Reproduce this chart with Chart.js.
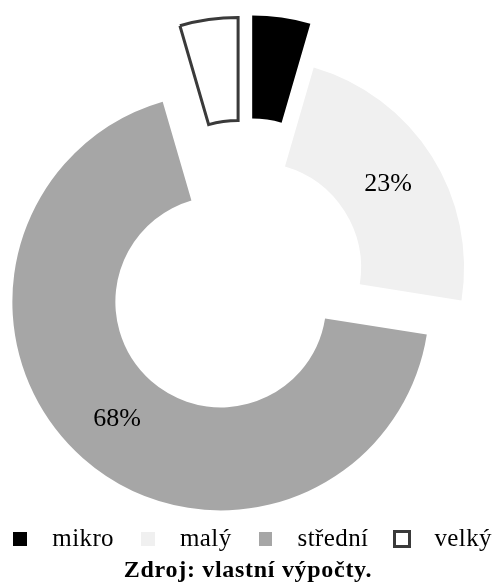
<!DOCTYPE html>
<html lang="cs">
<head>
<meta charset="utf-8">
<title>Podniky podle velikosti</title>
<script src="https://cdn.jsdelivr.net/npm/chart.js@4.4.1/dist/chart.umd.min.js"></script>
<style>
  html, body { margin: 0; padding: 0; background: #fff; }
  #frame {
    position: relative; width: 496px; height: 588px; overflow: hidden;
    font-family: 'Liberation Serif', 'Times New Roman', serif; color: #000;
  }
  #chart { position: absolute; left: 0; top: 0; }
  #legend {
    position: absolute; left: 0; top: 524.8px; width: 496px; margin: 0;
    padding: 0 0 0 13.3px; box-sizing: border-box; list-style: none;
    display: flex; align-items: flex-start;
  }
  #legend li { display: flex; align-items: flex-start; margin-right: 27px; }
  #legend .swatch { width: 13.5px; height: 13.5px; margin-top: 7.5px; margin-right: 25.5px; box-sizing: border-box; }
  #legend .label { font-size: 25px; line-height: 25px; letter-spacing: 0.4px; white-space: nowrap; }
  #source {
    position: absolute; left: 0; top: 556.6px; width: 496px; text-align: center;
    font-weight: bold; font-size: 24px; line-height: 24px; letter-spacing: 0.7px;
  }
</style>
</head>
<body>
<div id="frame">
  <canvas id="chart" width="496" height="530"></canvas>
  <ul id="legend"></ul>
  <div id="source"></div>
</div>
<script>
// Size classes of enterprises and their shares (%)
const categories = ['mikro', 'malý', 'střední', 'velký'];
const shares = [4.5, 23, 68, 4.5];
const sourceNote = 'Zdroj: vlastní výpočty.';

document.getElementById('source').textContent = sourceNote;

// Pulls every slice away from the centre along its own mid-angle,
// then lets the arc element paint itself in the shifted position.
const explodeSlices = {
  id: 'explode',
  beforeDatasetDraw(chart, args, opts) {
    const ctx = chart.ctx;
    const dist = opts.distance || [];
    args.meta.data.forEach((arc, i) => {
      const mid = (arc.startAngle + arc.endAngle) / 2;
      const d = dist[i] || 0;
      ctx.save();
      ctx.translate(Math.cos(mid) * d, Math.sin(mid) * d);
      arc.draw(ctx, chart.chartArea);
      ctx.restore();
    });
    return false;
  }
};

// Percentage labels in the middle of the larger slices
const sliceLabels = {
  id: 'sliceLabels',
  afterDatasetsDraw(chart, args, opts) {
    const ctx = chart.ctx;
    const meta = chart.getDatasetMeta(0);
    const values = chart.data.datasets[0].data;
    const total = values.reduce((a, b) => a + b, 0);
    const dist = chart.options.plugins.explode.distance || [];
    ctx.save();
    ctx.font = opts.font;
    ctx.fillStyle = opts.color;
    ctx.textAlign = 'center';
    ctx.textBaseline = 'middle';
    meta.data.forEach((arc, i) => {
      const pct = values[i] / total * 100;
      if (pct < opts.minShare) return;
      const c = arc.getCenterPoint();
      const mid = (arc.startAngle + arc.endAngle) / 2;
      const d = dist[i] || 0;
      ctx.fillText(Math.round(pct) + '%', c.x + Math.cos(mid) * d, c.y + Math.sin(mid) * d);
    });
    ctx.restore();
  }
};

// Legend built as HTML from the chart's own legend items
const htmlLegend = {
  id: 'htmlLegend',
  afterUpdate(chart, args, opts) {
    const list = document.getElementById(opts.containerID);
    list.innerHTML = '';
    const items = chart.options.plugins.legend.labels.generateLabels(chart);
    items.forEach(item => {
      const li = document.createElement('li');
      const box = document.createElement('span');
      box.className = 'swatch';
      box.style.background = item.fillStyle;
      const lw = item.lineWidth || 0;
      if (lw > 0) {
        box.style.outline = lw + 'px solid ' + item.strokeStyle;
        box.style.outlineOffset = (-lw / 2) + 'px';
      }
      const text = document.createElement('span');
      text.className = 'label';
      text.textContent = item.text;
      li.appendChild(box);
      li.appendChild(text);
      list.appendChild(li);
    });
  }
};

new Chart(document.getElementById('chart'), {
  type: 'doughnut',
  data: {
    labels: categories,
    datasets: [{
      data: shares,
      backgroundColor: ['#000000', '#f0f0f0', '#a6a6a6', '#ffffff'],
      borderColor: ['#000000', '#f0f0f0', '#a6a6a6', '#3a3a3a'],
      borderWidth: [0, 0, 0, 3],
      borderJoinStyle: 'miter',
      hoverOffset: 0,
      clip: false
    }]
  },
  options: {
    responsive: false,
    animation: false,
    events: [],
    rotation: 0,
    radius: 208.5,
    cutout: '50.6%',
    layout: { padding: { top: 19, right: 6, bottom: 0, left: 0 } },
    plugins: {
      legend: { display: false },
      tooltip: { enabled: false },
      explode: { distance: [51, 12.5, 36.5, 49] },
      sliceLabels: { font: '26px "Liberation Serif", "Times New Roman", serif', color: '#000', minShare: 10 },
      htmlLegend: { containerID: 'legend' }
    }
  },
  plugins: [explodeSlices, sliceLabels, htmlLegend]
});
</script>
</body>
</html>
